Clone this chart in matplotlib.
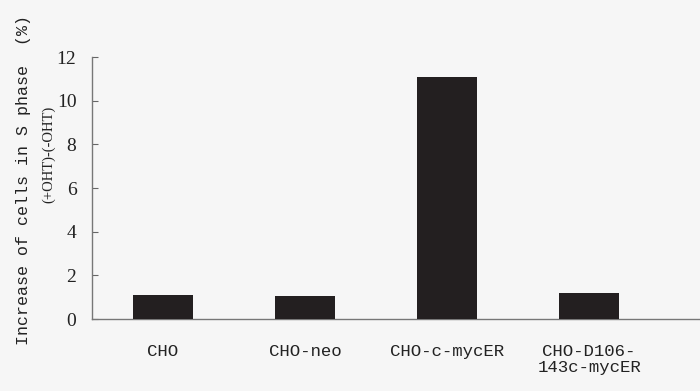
import numpy as np
import matplotlib
matplotlib.use('agg')
import matplotlib.pyplot as plt

# data
categories = ["CHO", "CHO-neo", "CHO-c-mycER", "CHO-D106-\n143c-mycER"]
increase = [1.1, 1.05, 11.1, 1.2]
yticks = [0, 2, 4, 6, 8, 10, 12]

bg = '#f6f6f6'
fig = plt.figure(figsize=(7.0, 3.91), dpi=100, facecolor=bg)
ax = fig.add_axes([0.131, 0.184, 0.869, 0.67], facecolor=bg)

x = np.arange(len(categories))
ax.bar(x, increase, width=0.42, color='#231f20', zorder=3)

ax.set_xlim(-0.5, 3.78)
ax.set_ylim(0, 12)
ax.set_yticks(yticks)
ax.set_yticklabels([str(t) for t in yticks], family='Liberation Serif',
                   fontsize=14, color='#222222')
ax.set_xticks(x)
ax.set_xticklabels(categories, family='Liberation Mono', fontsize=12.5,
                   color='#222222', linespacing=1.05)
ax.tick_params(axis='y', direction='in', length=4, width=0.8,
               color='#666666', pad=11)
ax.tick_params(axis='x', length=0, pad=18)

for s in ['top', 'right']:
    ax.spines[s].set_visible(False)
for s in ['left', 'bottom']:
    ax.spines[s].set_color('#777777')
    ax.spines[s].set_linewidth(1.0)

# two-line y label, drawn as separate texts like the original
fig.text(0.033, 0.54, "Increase of cells in S phase  (%)", rotation=90,
         ha='center', va='center', family='Liberation Mono', fontsize=12,
         color='#222222')
fig.text(0.069, 0.605, "(+OHT)-(-OHT)", rotation=90, ha='center',
         va='center', family='Liberation Serif', fontsize=10.5,
         color='#222222')

fig.savefig('out.png', dpi=100, facecolor=bg)
